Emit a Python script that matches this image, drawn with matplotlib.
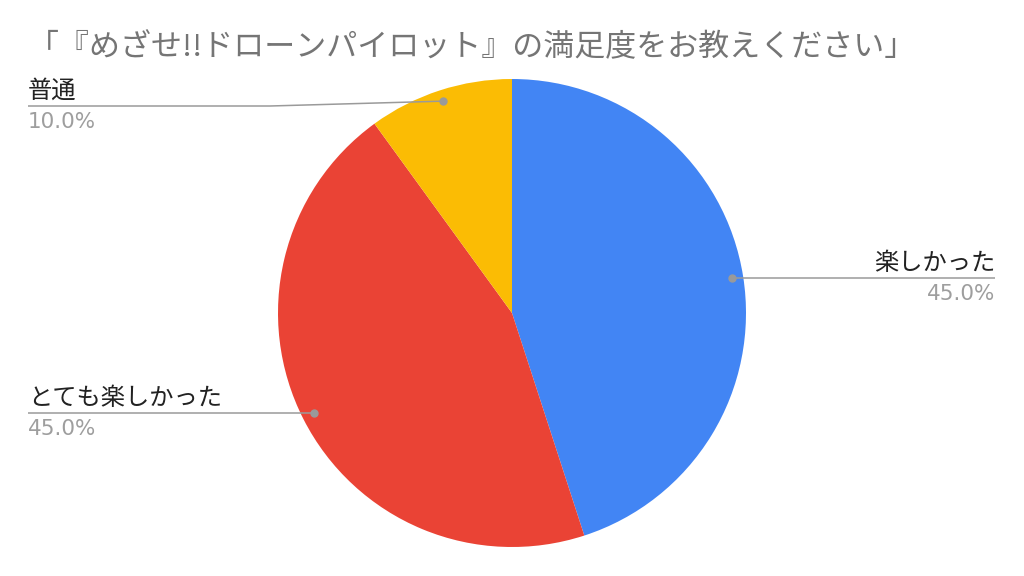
import numpy as np
import matplotlib
matplotlib.use("Agg")
import matplotlib.pyplot as plt

categories = ["楽しかった", "とても楽しかった", "普通"]
values = [45.0, 45.0, 10.0]
pct_labels = ["45.0%", "45.0%", "10.0%"]
colors = ["#4285F4", "#EA4335", "#FBBC04"]
title = "「『めざせ!!ドローンパイロット』の満足度をお教えください」"

W, H = 1024, 576
fig = plt.figure(figsize=(W / 100, H / 100), dpi=100)
ax = fig.add_axes([0, 0, 1, 1])

def py(y):
    return H - y

cx, cy, R = 512, 313, 234
wedges, _ = ax.pie(values, colors=colors, startangle=90, counterclock=False,
                   center=(cx, py(cy)), radius=R, frame=True,
                   wedgeprops=dict(linewidth=0))
ax.set_xlim(0, W)
ax.set_ylim(0, H)
ax.set_aspect("equal", adjustable="box")
ax.axis("off")

cjk = ["Noto Sans CJK JP", "DejaVu Sans"]
line_col = "#9a9a9a"

# label layout: (side, line y px, text x)
layout = [("right", 278, 995), ("left", 413, 28), ("left", 106, 28)]

for w, cat, pct, (side, ly, tx) in zip(wedges, categories, pct_labels, layout):
    mid = np.deg2rad((w.theta1 + w.theta2) / 2)
    dx = cx + 0.952 * R * np.cos(mid)
    dy = py(cy) + 0.952 * R * np.sin(mid)
    if abs(dy - py(ly)) <= 2:
        dy = py(ly)
    if side == "right":
        xs, ys = [dx, tx], [dy, py(ly)]
        ha = "right"
    else:
        if dy != py(ly):
            xs, ys = [tx, 270, dx], [py(ly), py(ly), dy]
        else:
            xs, ys = [tx, dx], [py(ly), dy]
        ha = "left"
    ax.plot(xs, ys, color=line_col, lw=1.1, solid_capstyle="butt", zorder=3)
    ax.plot([dx], [dy], "o", color=line_col, ms=5, zorder=4)
    ax.text(tx, py(ly - 8), cat, ha=ha, va="baseline", fontsize=17.5,
            family=cjk, color="#222222")
    ax.text(tx, py(ly + 22), pct, ha=ha, va="baseline", fontsize=15.5,
            family=["DejaVu Sans"], color="#9e9e9e")

fig.text(28 / W, 1 - 56 / H, title, ha="left", va="baseline", fontsize=22.3,
         family=cjk, color="#757575")

fig.savefig("out.png", dpi=100, facecolor="white")
